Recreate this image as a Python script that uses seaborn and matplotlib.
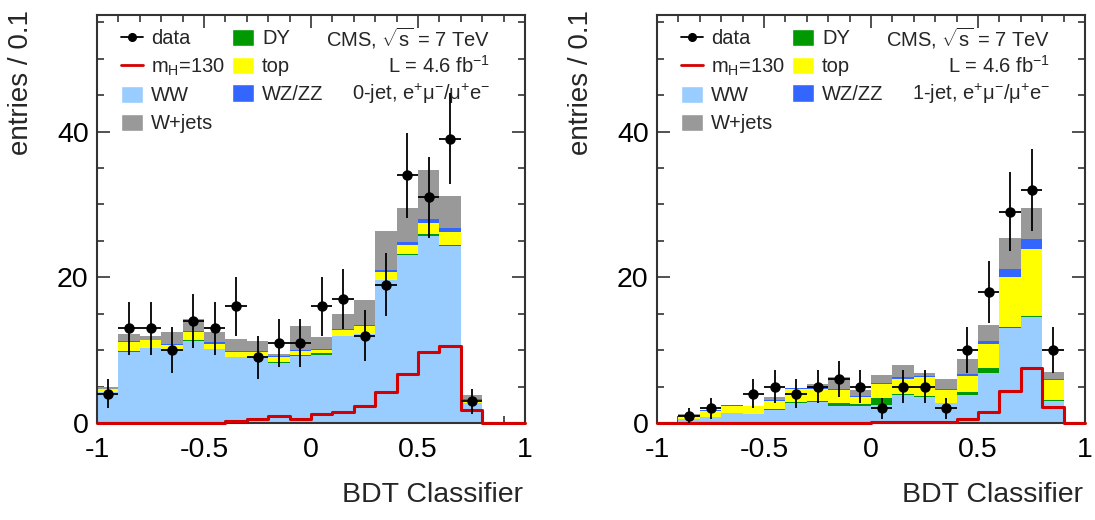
import numpy as np
import pandas as pd
import matplotlib
matplotlib.use("Agg")
import matplotlib.pyplot as plt
from matplotlib.lines import Line2D
from matplotlib.patches import Patch
from matplotlib.ticker import MultipleLocator, FixedLocator, FixedFormatter
import seaborn as sns

# ---------------- data ----------------
edges = np.round(np.linspace(-1.0, 1.0, 21), 2)
centers = np.round((edges[:-1] + edges[1:]) / 2, 3)

processes = ["WW", "DY", "top", "WZ/ZZ", "W+jets"]

# 0-jet
ww_0 = [4.2, 9.8, 10.3, 10.0, 11.3, 10.1, 9.0, 9.0, 8.3, 9.2, 9.4, 11.9, 12.2, 19.6, 23.0, 25.7, 24.3, 2.8, 0, 0]
dy_0 = [0, 0.05, 0.05, 0.05, 0.05, 0.1, 0.1, 0.05, 0.05, 0.1, 0.2, 0.05, 0.05, 0.05, 0.2, 0.2, 0.2, 0, 0, 0]
top_0 = [0.4, 1.3, 1.0, 0.7, 1.1, 0.7, 0.6, 0.7, 0.7, 0.6, 0.4, 0.8, 1.0, 1.1, 1.3, 1.6, 1.7, 0.4, 0, 0]
wzzz_0 = [0.05, 0.1, 0.1, 0.15, 0.15, 0.15, 0.2, 0.15, 0.2, 0.1, 0.15, 0.15, 0.15, 0.3, 0.3, 0.5, 0.5, 0.1, 0, 0]
wjets_0 = [0.25, 0.9, 0.5, 1.55, 1.65, 1.45, 1.6, 1.35, 0.2, 3.3, 1.65, 2.1, 3.5, 5.3, 4.7, 6.7, 4.4, 0.6, 0, 0]
data_0 = [4, 13, 13, 10, 14, 13, 16, 9, 11, 11, 16, 17, 12, 19, 34, 31, 39, 3, 0, 0]
signal_0 = [0, 0, 0, 0, 0, 0, 0.3, 0.5, 0.9, 0.5, 1.2, 1.5, 2.3, 4.2, 6.7, 9.7, 10.6, 1.8, 0, 0]

# 1-jet
ww_1 = [0, 0.5, 0.8, 1.4, 1.2, 1.8, 2.8, 2.9, 2.4, 2.4, 2.5, 3.8, 3.6, 2.7, 3.9, 6.8, 13.0, 14.5, 3.0, 0]
dy_1 = [0, 0, 0, 0, 0.05, 0.1, 0.1, 0.15, 0.3, 0.15, 0.9, 0.2, 0.15, 0.05, 0.4, 0.7, 0.2, 0.15, 0.2, 0]
top_1 = [0, 0.5, 0.9, 1.0, 1.05, 1.1, 1.7, 1.65, 1.8, 1.05, 1.9, 2.1, 2.55, 1.75, 2.2, 3.4, 6.9, 9.25, 2.7, 0]
wzzz_1 = [0, 0.05, 0.05, 0.05, 0.1, 0.1, 0.15, 0.15, 0.15, 0.05, 0.15, 0.2, 0.15, 0.15, 0.2, 0.4, 1.1, 1.3, 0.2, 0]
wjets_1 = [0, 0.15, 0.05, 0, 0, 0.5, 0.05, 0.45, 1.65, 0.85, 1.15, 1.7, 0.45, 1.45, 2.1, 2.1, 4.2, 4.3, 0.9, 0]
data_1 = [0, 1, 2, 0, 4, 5, 4, 5, 6, 5, 2, 5, 5, 2, 10, 18, 29, 32, 10, 0]
signal_1 = [0, 0, 0, 0, 0, 0, 0, 0, 0, 0, 0.2, 0.2, 0.2, 0.2, 0.5, 1.5, 4.4, 7.6, 2.2, 0]

channel_labels = ["0-jet", "1-jet"]

colors = {"WW": "#99ccff", "DY": "#009900", "top": "#ffff00",
          "WZ/ZZ": "#3366ff", "W+jets": "#999999"}
sig_color = "#d40000"

# ---------------- style ----------------
sns.set_theme(style="white")
plt.rcParams["font.family"] = ["Liberation Sans", "DejaVu Sans"]
plt.rcParams["mathtext.fontset"] = "custom"
plt.rcParams["mathtext.rm"] = "Liberation Sans"
plt.rcParams["mathtext.it"] = "Liberation Sans:italic"
plt.rcParams["mathtext.default"] = "regular"

W, H = 1095, 520
fig = plt.figure(figsize=(W / 100, H / 100), dpi=100)
ax_w, ax_h = 428 / W, 408 / H
axes = [fig.add_axes([97 / W, (H - 423) / H, ax_w, ax_h]),
        fig.add_axes([657 / W, (H - 423) / H, ax_w, ax_h])]

channels = [
    (ww_0, dy_0, top_0, wzzz_0, wjets_0, data_0, signal_0),
    (ww_1, dy_1, top_1, wzzz_1, wjets_1, data_1, signal_1),
]

for ax, ch, chlab in zip(axes, channels, channel_labels):
    ww, dy, top, wzzz, wjets, data, sig = ch
    rows = []
    for name, vals in zip(processes, [ww, dy, top, wzzz, wjets]):
        for c, v in zip(centers, vals):
            rows.append({"x": float(c), "w": float(v), "process": name})
    df = pd.DataFrame(rows)
    sns.histplot(data=df, x="x", weights="w", hue="process",
                 hue_order=processes[::-1], palette=colors,
                 bins=20, binrange=(-1, 1), multiple="stack", element="step",
                 fill=True, alpha=1, linewidth=0, legend=False, ax=ax)
    n_before = len(ax.lines)
    sdf = pd.DataFrame({"x": centers.astype(float), "w": np.array(sig, dtype=float)})
    sns.histplot(data=sdf, x="x", weights="w", bins=20, binrange=(-1, 1),
                 element="step", fill=False, color=sig_color, linewidth=2.2,
                 ax=ax)
    for ln in ax.lines[n_before:]:
        ln.set_clip_on(False)
        ln.set_zorder(4)
    d = np.array(data, dtype=float)
    m = d > 0
    ax.errorbar(centers[m], d[m], yerr=np.sqrt(d[m]), xerr=0.05, fmt="o",
                color="black", ms=6.5, elinewidth=1.3, capsize=0, zorder=5)

    ax.set_xlim(-1, 1)
    ax.set_ylim(0, 56)
    ax.set_xlabel("")
    ax.set_ylabel("")
    ax.xaxis.set_major_locator(FixedLocator([-1, -0.5, 0, 0.5, 1]))
    ax.xaxis.set_major_formatter(FixedFormatter(["-1", "-0.5", "0", "0.5", "1"]))
    ax.xaxis.set_minor_locator(MultipleLocator(0.1))
    ax.yaxis.set_major_locator(FixedLocator([0, 20, 40]))
    ax.yaxis.set_major_formatter(FixedFormatter(["0", "20", "40"]))
    ax.yaxis.set_minor_locator(MultipleLocator(5))
    ax.tick_params(which="both", direction="in", top=True, right=True,
                   bottom=True, left=True, color="#333333", width=1.2)
    ax.tick_params(which="major", length=9.5, labelsize=20.5, colors="#333333",
                   labelcolor="black")
    ax.tick_params(axis="x", which="major", pad=10)
    ax.tick_params(axis="y", which="major", pad=6)
    ax.tick_params(which="minor", length=5)
    for s in ax.spines.values():
        s.set_color("#333333")
        s.set_linewidth(1.5)
        s.set_visible(True)
        s.set_zorder(3)

    handles = [
        Line2D([0], [0], color="black", marker="o", ms=5.5, lw=1.3),
        Line2D([0], [0], color=sig_color, lw=2),
        Patch(facecolor=colors["WW"]),
        Patch(facecolor=colors["W+jets"]),
        Patch(facecolor=colors["DY"]),
        Patch(facecolor=colors["top"]),
        Patch(facecolor=colors["WZ/ZZ"]),
    ]
    labels = ["data", "m$_{H}$=130", "WW", "W+jets", "DY", "top", "WZ/ZZ"]
    ax.legend(handles, labels, ncol=2, loc="upper left",
              bbox_to_anchor=(0.055, 0.966), frameon=False, fontsize=14.5,
              handlelength=1.1, handleheight=0.95, handletextpad=0.4,
              columnspacing=0.35, labelspacing=0.40, borderpad=0,
              borderaxespad=0)

    ax.text(0.918, 0.922, r"CMS, $\sqrt{s}$ = 7 TeV", transform=ax.transAxes,
            ha="right", va="baseline", fontsize=14.5)
    ax.text(0.918, 0.859, r"L = 4.6 fb$^{-1}$", transform=ax.transAxes,
            ha="right", va="baseline", fontsize=14.5)
    ax.text(0.918, 0.792, chlab + r", e$^{+}$μ$^{-}$/μ$^{+}$e$^{-}$",
            transform=ax.transAxes, ha="right", va="baseline", fontsize=14.5)

    ax.text(0.995, -0.194, "BDT Classifier", transform=ax.transAxes,
            ha="right", va="baseline", fontsize=20.5)

fig.text(21 / W, 1 - 10 / H, "entries / 0.1", rotation=90, ha="center",
         va="top", fontsize=20)
fig.text(581 / W, 1 - 10 / H, "entries / 0.1", rotation=90, ha="center",
         va="top", fontsize=20)

fig.savefig("out.png", dpi=100)
